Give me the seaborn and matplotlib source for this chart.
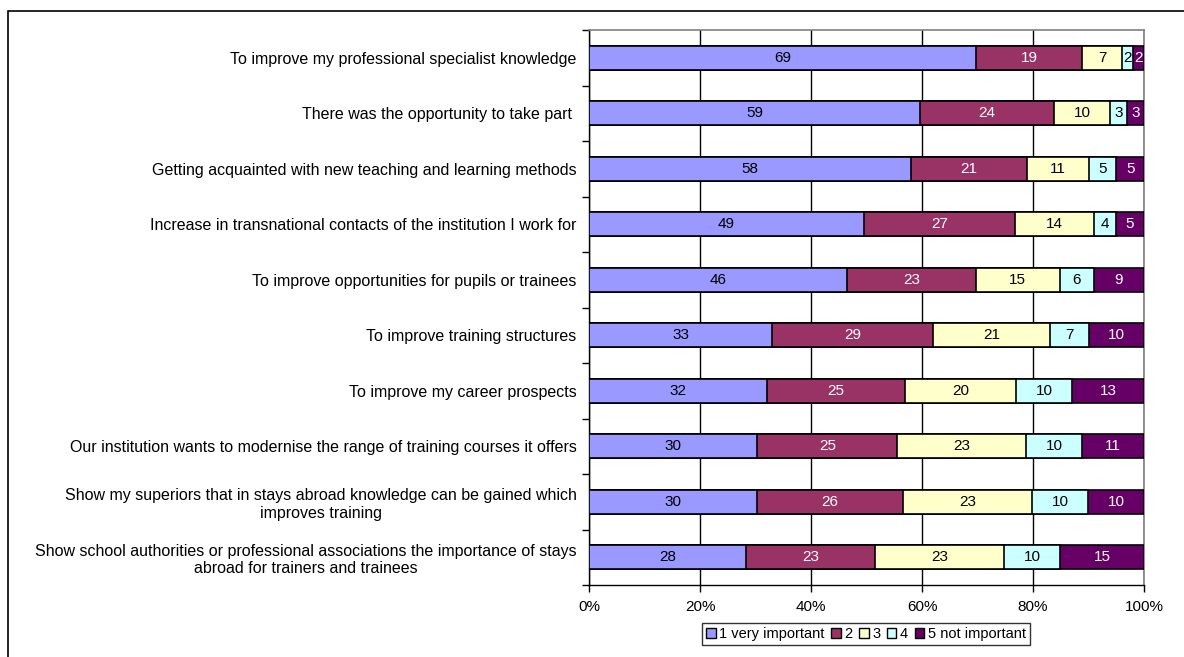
import numpy as np
import pandas as pd
import matplotlib
matplotlib.use("Agg")
import matplotlib.pyplot as plt
from matplotlib.patches import Patch, Rectangle
import seaborn as sns

labels = [
    "To improve my professional specialist knowledge",
    "There was the opportunity to take part ",
    "Getting acquainted with new teaching and learning methods",
    "Increase in transnational contacts of the institution I work for",
    "To improve opportunities for pupils or trainees",
    "To improve training structures",
    "To improve my career prospects",
    "Our institution wants to modernise the range of training courses it offers",
    "Show my superiors that in stays abroad knowledge can be gained which\nimproves training",
    "Show school authorities or professional associations the importance of stays\nabroad for trainers and trainees",
]
v1 = [69, 59, 58, 49, 46, 33, 32, 30, 30, 28]
v2 = [19, 24, 21, 27, 23, 29, 25, 25, 26, 23]
v3 = [7, 10, 11, 14, 15, 21, 20, 23, 23, 23]
v4 = [2, 3, 5, 4, 6, 7, 10, 10, 10, 10]
v5 = [2, 3, 5, 5, 9, 10, 13, 11, 10, 15]
series_names = ["1 very important", "2", "3", "4", "5 not important"]
colors = ["#9999FF", "#993366", "#FFFFCC", "#CCFFFF", "#660066"]
text_colors = ["black", "white", "black", "black", "white"]

sns.set_theme(style="white")
plt.rcParams["font.family"] = ["Liberation Sans", "DejaVu Sans"]
plt.rcParams.update({"text.color": "black", "xtick.color": "black",
                     "ytick.color": "black", "axes.labelcolor": "black"})

vals = np.array([v1, v2, v3, v4, v5], dtype=float)
shares = vals / vals.sum(axis=0) * 100
cum = shares.cumsum(axis=0)

df = pd.DataFrame({"label": labels})
for i in range(5):
    df[f"cum{i}"] = cum[i]

fig = plt.figure(figsize=(11.84, 6.57), dpi=100)
ax = fig.add_axes([589 / 1184, 1 - 585 / 657, 555 / 1184, 555 / 657])

# stacked bars: draw cumulative totals from the largest down
for i in range(4, -1, -1):
    sns.barplot(data=df, x=f"cum{i}", y="label", orient="h", color=colors[i],
                saturation=1, width=0.44, edgecolor="black", linewidth=1.2,
                ax=ax, zorder=3)

# data labels
for i in range(5):
    left = cum[i] - shares[i]
    for j in range(len(labels)):
        ax.text(left[j] + shares[i][j] / 2, j, f"{int(vals[i][j])}",
                ha="center", va="center", fontsize=11,
                color=text_colors[i], zorder=5)

ax.set_xlim(0, 100)
ax.set_ylim(len(labels) - 0.5, -0.5)
ax.set_xticks(np.arange(0, 101, 20))
ax.set_xticklabels([f"{t}%" for t in range(0, 101, 20)], fontsize=11)
ax.set_xlabel("")
ax.set_ylabel("")
ax.set_yticks(range(len(labels)))
ax.set_yticklabels(labels, fontsize=11.5, multialignment="center")
ax.set_yticks(np.arange(-0.5, len(labels), 1), minor=True)
ax.tick_params(axis="y", which="major", length=0, pad=9, colors="black")
ax.tick_params(axis="y", which="minor", length=5, width=1, color="black", left=True)
ax.tick_params(axis="x", length=5, width=1, color="black", labelcolor="black",
               bottom=True, pad=6)

ax.xaxis.grid(True, color="black", linewidth=1)
ax.yaxis.grid(False)
ax.set_axisbelow(True)
for side in ["top", "right"]:
    ax.spines[side].set_color("#808080")
    ax.spines[side].set_linewidth(1.2)
for side in ["left", "bottom"]:
    ax.spines[side].set_color("black")
    ax.spines[side].set_linewidth(1)

handles = [Patch(facecolor=c, edgecolor="black", linewidth=1) for c in colors]
leg = fig.legend(handles, series_names, loc="center",
                 bbox_to_anchor=(866 / 1184, 1 - 634 / 657), ncol=5,
                 fontsize=10.5, frameon=True, fancybox=False,
                 handlelength=0.65, handleheight=0.65, handletextpad=0.25,
                 columnspacing=0.45, borderpad=0.3, borderaxespad=0,
                 labelcolor="black")
leg.get_frame().set_edgecolor("black")
leg.get_frame().set_linewidth(1)

# outer chart border
fig.patches.append(Rectangle((8 / 1184, -0.1), 2, 1 - 11 / 657 + 0.1,
                             transform=fig.transFigure, fill=False,
                             edgecolor="black", linewidth=1.2))

fig.savefig("out.png", dpi=100)
